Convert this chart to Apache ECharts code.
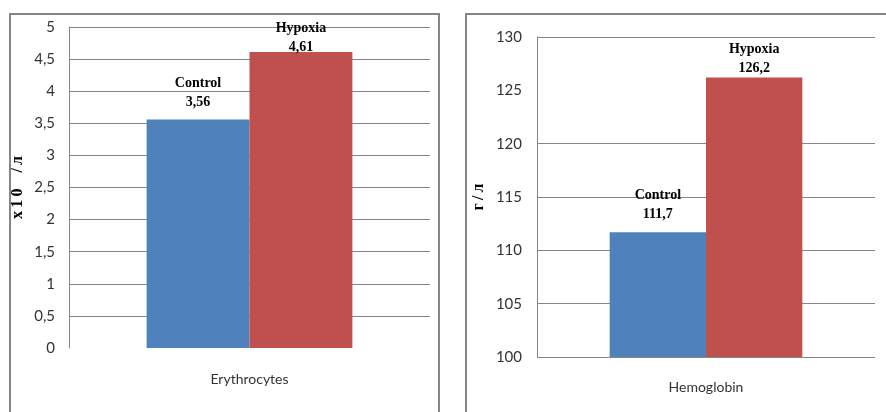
<!DOCTYPE html>
<html>
<head>
<meta charset="utf-8">
<script src="https://cdn.jsdelivr.net/npm/echarts@6/dist/echarts.min.js"></script>
<style>
  html, body { margin: 0; padding: 0; background: #ffffff; }
  #chart { width: 886px; height: 412px; }
</style>
</head>
<body>
<div id="chart"></div>
<script>
// Blood indices: control vs hypoxia
const groups = ['Control', 'Hypoxia'];
const erythCategory = ['Erythrocytes'];
const erythValues = [3.56, 4.61];
const hemoCategory = ['Hemoglobin'];
const hemoValues = [111.7, 126.2];
const erythAxisName = 'х\u20091\u20090\u2002\u2002/\u2009л';
const hemoAxisName = 'г\u2009/\u2009л';

const colors = ['#4f81bd', '#c0504d'];
const gridColor = '#868686';
const comma = v => String(v).replace('.', ',');

// gap between each bar top and its two-line label
const erythLabelGap = [8, -5];
const hemoLabelGap = [8, 0];

const labelStyle = {
  show: true,
  position: 'top',
  fontFamily: '"Liberation Serif", "Times New Roman", serif',
  fontWeight: 'bold',
  fontSize: 14,
  lineHeight: 19,
  color: '#000',
  formatter: p => p.seriesName + '\n' + comma(p.value)
};

const tickLabel = {
  fontFamily: 'Lato, "Open Sans", sans-serif',
  fontSize: 15,
  color: '#333333'
};

const axisNameStyle = {
  fontFamily: '"Liberation Serif", "Times New Roman", serif',
  fontWeight: 'bold',
  fontSize: 16,
  color: '#000'
};

function makeSeries(values, gaps, axisIndex, catGap) {
  return groups.map((name, i) => ({
    name: name,
    type: 'bar',
    xAxisIndex: axisIndex,
    yAxisIndex: axisIndex,
    barGap: '0%',
    barCategoryGap: catGap,
    itemStyle: { color: colors[i] },
    label: Object.assign({}, labelStyle, { distance: gaps[i] }),
    data: [values[i]]
  }));
}

const chart = echarts.init(document.getElementById('chart'), null, { renderer: 'canvas' });

chart.setOption({
  backgroundColor: '#ffffff',
  animation: false,
  graphic: [
    { type: 'rect', shape: { x: 10, y: 14, width: 429, height: 430 },
      style: { fill: 'none', stroke: gridColor, lineWidth: 2 }, silent: true },
    { type: 'rect', shape: { x: 466, y: 14, width: 440, height: 430 },
      style: { fill: 'none', stroke: gridColor, lineWidth: 2 }, silent: true }
  ],
  grid: [
    { left: 69, top: 27, width: 361, height: 321 },
    { left: 537, top: 37, width: 338, height: 320 }
  ],
  xAxis: [
    { type: 'category', gridIndex: 0, data: erythCategory,
      axisLine: { show: false }, axisTick: { show: false },
      axisLabel: Object.assign({}, tickLabel, { margin: 24, fontSize: 14 }) },
    { type: 'category', gridIndex: 1, data: hemoCategory,
      axisLine: { show: false }, axisTick: { show: false },
      axisLabel: Object.assign({}, tickLabel, { margin: 23, fontSize: 14 }) }
  ],
  yAxis: [
    { type: 'value', gridIndex: 0, min: 0, max: 5, interval: 0.5,
      name: erythAxisName, nameLocation: 'middle', nameRotate: 90, nameGap: 43,
      nameTextStyle: axisNameStyle,
      axisLine: { show: true, lineStyle: { color: gridColor, width: 1 } },
      axisTick: { show: false },
      axisLabel: Object.assign({}, tickLabel, { margin: 14, formatter: v => comma(v) }),
      splitLine: { show: true, showMinLine: false, lineStyle: { color: gridColor, width: 1 } } },
    { type: 'value', gridIndex: 1, min: 100, max: 130, interval: 5,
      name: hemoAxisName, nameLocation: 'middle', nameRotate: 90, nameGap: 50,
      nameTextStyle: axisNameStyle,
      axisLine: { show: true, lineStyle: { color: gridColor, width: 1 } },
      axisTick: { show: false },
      axisLabel: Object.assign({}, tickLabel, { margin: 15 }),
      splitLine: { show: true,
        lineStyle: { color: [gridColor, gridColor, gridColor, gridColor, gridColor, 'rgba(0,0,0,0)', gridColor], width: 1 } } }
  ],
  series: [
    ...makeSeries(erythValues, erythLabelGap, 0, '43%'),
    ...makeSeries(hemoValues, hemoLabelGap, 1, '43%')
  ]
});
</script>
</body>
</html>
